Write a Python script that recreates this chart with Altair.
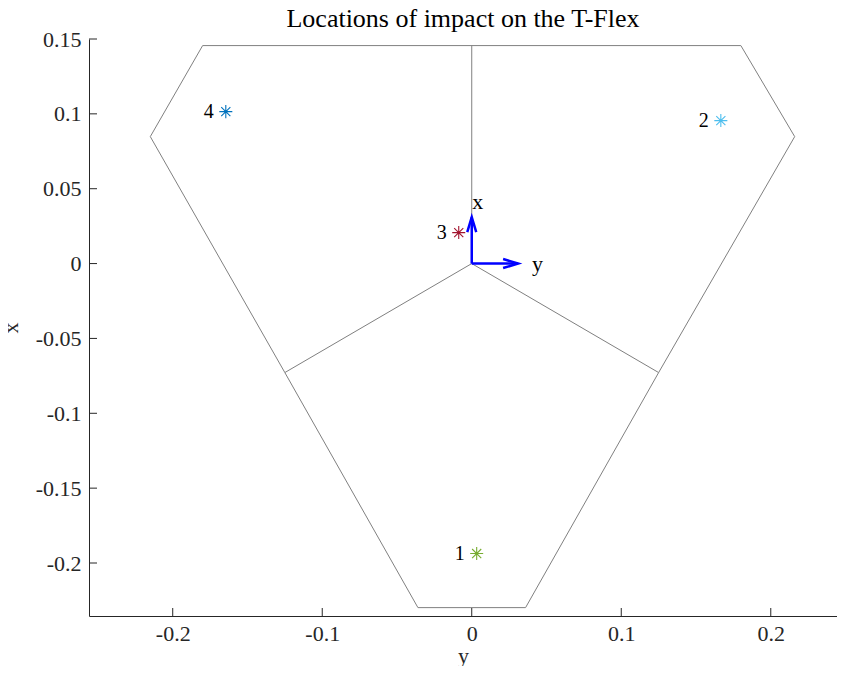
import altair as alt
import pandas as pd

# Outline of the T-Flex (horizontal = y, vertical = x)
outline_y = [-0.180, 0.180, 0.216, 0.125, 0.036, -0.036, -0.125, -0.215, -0.180]
outline_x = [0.1456, 0.1456, 0.0848, -0.0728, -0.2298, -0.2298, -0.0728, 0.0848, 0.1456]

# Spokes from origin
spoke_y_end = [0.0, -0.125, 0.125]
spoke_x_end = [0.1456, -0.0728, -0.0728]

# Impact points
pt_label = ["1", "2", "3", "4"]
pt_y = [0.0033, 0.1666, -0.0087, -0.1645]
pt_x = [-0.1937, 0.0955, 0.0207, 0.1015]
pt_color = ["#77AC30", "#4DBEEE", "#A2142F", "#0072BD"]

# Frame arrows
arrow_len = 0.031

x_ticks = [-0.2, -0.1, 0, 0.1, 0.2]
y_ticks = [-0.2, -0.15, -0.1, -0.05, 0, 0.05, 0.1, 0.15]

XDOM = [-0.256, 0.2443]
YDOM = [-0.2354, 0.15]
W, H = 748, 577
FONT = "Liberation Serif"

rows = []
for i, (a, b) in enumerate(zip(outline_y, outline_x)):
    rows.append({"seg": "outline", "o": i, "y": a, "x": b})
for k, (a, b) in enumerate(zip(spoke_y_end, spoke_x_end)):
    rows.append({"seg": f"s{k}", "o": 0, "y": 0.0, "x": 0.0})
    rows.append({"seg": f"s{k}", "o": 1, "y": a, "x": b})
lines_df = pd.DataFrame(rows)

xs = alt.Scale(domain=XDOM, nice=False, zero=False)
ys = alt.Scale(domain=YDOM, nice=False, zero=False)

xaxis = alt.Axis(values=x_ticks, labelExpr="toString(datum.value)", grid=False,
                 tickSize=0, labelPadding=7, domainColor="#262626",
                 labelColor="#262626", labelFont=FONT, labelFontSize=22,
                 titleFont=FONT, titleFontSize=22, titleFontWeight="normal",
                 titleColor="#262626", titlePadding=1)
yaxis = alt.Axis(values=y_ticks, labelExpr="toString(datum.value)", grid=False,
                 tickSize=0, labelPadding=8, domainColor="#262626",
                 labelColor="#262626", labelFont=FONT, labelFontSize=22,
                 titleFont=FONT, titleFontSize=22, titleFontWeight="normal",
                 titleColor="#262626", titlePadding=13)

lines = alt.Chart(lines_df).mark_line(color="#808080", strokeWidth=1).encode(
    x=alt.X("y:Q", scale=xs, axis=xaxis, title="y"),
    y=alt.Y("x:Q", scale=ys, axis=yaxis, title="x"),
    detail="seg:N",
    order="o:Q",
)

xt_df = pd.DataFrame({"v": x_ticks})
yt_df = pd.DataFrame({"v": y_ticks})
xticks = alt.Chart(xt_df).mark_rule(color="#262626", strokeWidth=1).encode(
    x=alt.X("v:Q", scale=xs), y=alt.value(H), y2=alt.value(H - 8))
yticks = alt.Chart(yt_df).mark_rule(color="#262626", strokeWidth=1).encode(
    y=alt.Y("v:Q", scale=ys), x=alt.value(0), x2=alt.value(8))

pts_df = pd.DataFrame({"lab": pt_label, "y": pt_y, "x": pt_x, "c": pt_color})
star = "M-1,0L1,0M0,-1L0,1M-0.7,-0.7L0.7,0.7M-0.7,0.7L0.7,-0.7"
points = alt.Chart(pts_df).mark_point(shape=star, size=170, filled=False,
                                      strokeWidth=1.1, opacity=1).encode(
    x=alt.X("y:Q", scale=xs), y=alt.Y("x:Q", scale=ys),
    color=alt.Color("c:N", scale=None))
labels = alt.Chart(pts_df).mark_text(align="right", baseline="middle", dx=-12,
                                     font=FONT, fontSize=20, color="#000000").encode(
    x=alt.X("y:Q", scale=xs), y=alt.Y("x:Q", scale=ys), text="lab:N")

arr_df = pd.DataFrame({"y0": [0.0, 0.0], "x0": [0.0, 0.0],
                       "y1": [0.0, arrow_len], "x1": [arrow_len, 0.0],
                       "name": ["x", "y"]})
shafts = alt.Chart(arr_df).mark_rule(color="#0000FF", strokeWidth=2.5).encode(
    x=alt.X("y0:Q", scale=xs), y=alt.Y("x0:Q", scale=ys),
    x2="y1:Q", y2="x1:Q")
head_up = alt.Chart(arr_df[arr_df.name == "x"]).mark_point(
    shape="M-0.3,1L0,0L0.3,1", size=900, filled=False, strokeWidth=2.5,
    color="#0000FF", opacity=1).encode(
    x=alt.X("y1:Q", scale=xs), y=alt.Y("x1:Q", scale=ys))
head_right = alt.Chart(arr_df[arr_df.name == "y"]).mark_point(
    shape="M-1,-0.3L0,0L-1,0.3", size=900, filled=False, strokeWidth=2.5,
    color="#0000FF", opacity=1).encode(
    x=alt.X("y1:Q", scale=xs), y=alt.Y("x1:Q", scale=ys))

alab_df = pd.DataFrame({"t": ["x", "y"], "y": [0.004, 0.044], "x": [0.041, 0.0]})
arrow_labels = alt.Chart(alab_df).mark_text(font=FONT, fontSize=22, color="#000000",
                                            baseline="middle", align="center").encode(
    x=alt.X("y:Q", scale=xs), y=alt.Y("x:Q", scale=ys), text="t:N")

chart = alt.layer(lines, xticks, yticks, shafts, head_up, head_right,
                  points, labels, arrow_labels).properties(
    width=W, height=H,
    title=alt.Title("Locations of impact on the T-Flex", font=FONT, fontSize=26,
                    fontWeight="normal", color="#000000", anchor="middle",
                    offset=-4),
    autosize=alt.AutoSizeParams(type="none"),
    padding={"left": 81, "top": 31, "right": 0, "bottom": 50},
).configure(
    background="white",
    view=alt.ViewConfig(stroke="transparent", strokeWidth=0),
)

chart.save("out.html", embed_options={"renderer": "svg", "actions": False})
